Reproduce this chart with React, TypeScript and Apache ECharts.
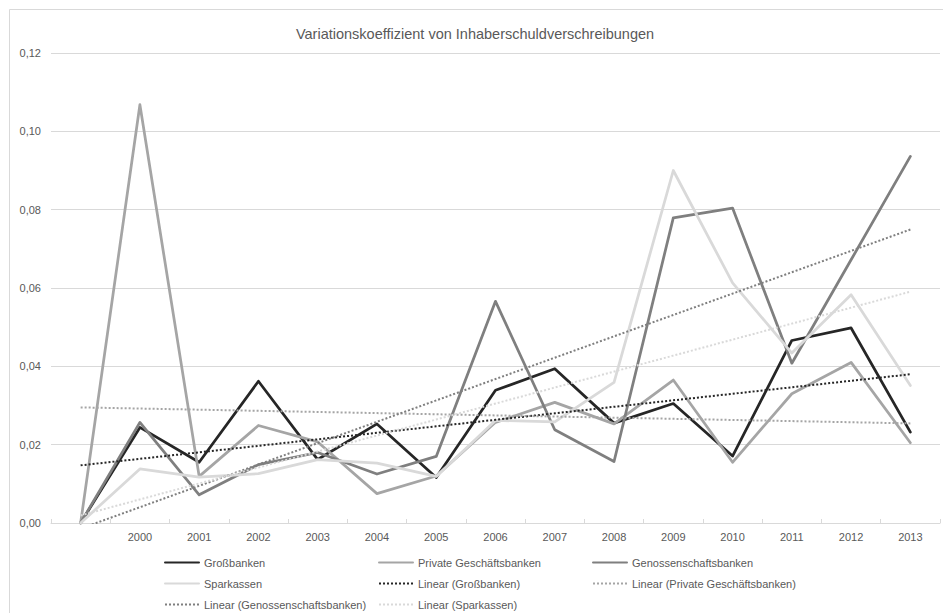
import React, { useEffect, useRef } from "react";
import * as echarts from "echarts";

const categories = ["", "2000", "2001", "2002", "2003", "2004", "2005", "2006", "2007", "2008", "2009", "2010", "2011", "2012", "2013"];

const grossbanken = [0, 0.0244, 0.0155, 0.0362, 0.0162, 0.0253, 0.0116, 0.0339, 0.0394, 0.0255, 0.0305, 0.0171, 0.0466, 0.0498, 0.0232];
const privateBanken = [0, 0.1068, 0.0119, 0.0249, 0.0207, 0.0075, 0.0120, 0.0257, 0.0308, 0.0253, 0.0365, 0.0155, 0.0330, 0.0410, 0.0205];
const genossenschaft = [0, 0.0257, 0.0072, 0.0149, 0.0180, 0.0125, 0.0170, 0.0566, 0.0238, 0.0157, 0.0779, 0.0804, 0.0408, 0.0672, 0.0936];
const sparkassen = [0, 0.0138, 0.0117, 0.0126, 0.0162, 0.0153, 0.0119, 0.0262, 0.0258, 0.0359, 0.0900, 0.0613, 0.0434, 0.0583, 0.0351];

const seriesNames = ["Großbanken", "Private Geschäftsbanken", "Genossenschaftsbanken", "Sparkassen"];
const seriesColors = ["#262626", "#a5a5a5", "#7f7f7f", "#d9d9d9"];

function linearTrend(values: number[]): number[] {
  const n = values.length;
  const xs = values.map((_, i) => i + 1);
  const mx = xs.reduce((a, b) => a + b, 0) / n;
  const my = values.reduce((a, b) => a + b, 0) / n;
  let sxy = 0;
  let sxx = 0;
  for (let i = 0; i < n; i++) {
    sxy += (xs[i] - mx) * (values[i] - my);
    sxx += (xs[i] - mx) * (xs[i] - mx);
  }
  const slope = sxy / sxx;
  const intercept = my - slope * mx;
  return xs.map((x) => intercept + slope * x);
}

export default function App() {
  const ref = useRef<HTMLDivElement>(null);

  useEffect(() => {
    if (!ref.current) return;
    const chart = echarts.init(ref.current, undefined, { renderer: "svg" });
    const font = "Liberation Sans, Arial, sans-serif";
    const dataSets = [grossbanken, privateBanken, genossenschaft, sparkassen];

    const mainSeries = dataSets.map((d, i) => ({
      name: seriesNames[i],
      type: "line",
      data: d,
      symbol: "none",
      lineStyle: { color: seriesColors[i], width: 2.75, join: "round", cap: "round" },
      itemStyle: { color: seriesColors[i] },
      z: 2,
    }));
    const trendSeries = dataSets.map((d, i) => ({
      name: `Linear (${seriesNames[i]})`,
      type: "line",
      data: linearTrend(d),
      symbol: "none",
      clip: true,
      lineStyle: { color: seriesColors[i], width: 2, type: [2, 2] },
      itemStyle: { color: seriesColors[i] },
      z: 3,
    }));

    const legendOrder = [
      seriesNames[0], seriesNames[1], seriesNames[2],
      seriesNames[3], "Linear (Großbanken)", "Linear (Private Geschäftsbanken)",
      "Linear (Genossenschaftsbanken)", "Linear (Sparkassen)",
    ];
    const colLeft = [164, 378, 592];
    const rowTop = [557, 578, 599];
    const legends = legendOrder.map((name, idx) => ({
      data: [name],
      left: colLeft[idx % 3],
      top: rowTop[Math.floor(idx / 3)],
      padding: 0,
      itemWidth: 34,
      itemHeight: 10,
      selectedMode: false,
      itemStyle: { opacity: 0, borderWidth: 0 },
      textStyle: { fontSize: 11, color: "#595959", fontFamily: font },
    }));

    chart.setOption({
      animation: false,
      backgroundColor: "#ffffff",
      title: {
        text: "Variationskoeffizient von Inhaberschuldverschreibungen",
        left: 470,
        textAlign: "center",
        top: 21,
        textStyle: { fontSize: 14.5, fontWeight: "normal", color: "#595959", fontFamily: font },
      },
      graphic: [
        {
          type: "rect",
          shape: { x: 9.5, y: 9.5, width: 1000, height: 1000 },
          style: { fill: "none", stroke: "#d9d9d9", lineWidth: 1 },
          silent: true,
        },
      ],
      legend: legends,
      grid: { left: 51, right: 3, top: 53, bottom: 90, containLabel: false },
      xAxis: {
        type: "category",
        data: categories,
        boundaryGap: true,
        axisLine: { lineStyle: { color: "#d9d9d9", width: 1 } },
        axisTick: { show: true, inside: true, length: 4, lineStyle: { color: "#d9d9d9" } },
        axisLabel: { color: "#595959", fontSize: 11, fontFamily: font, margin: 8, interval: 0 },
        splitLine: { show: false },
      },
      yAxis: {
        type: "value",
        min: 0,
        max: 0.12,
        interval: 0.02,
        axisLine: { show: false },
        axisTick: { show: false },
        axisLabel: {
          color: "#595959",
          fontSize: 11,
          fontFamily: font,
          margin: 10,
          formatter: (v: number) => v.toFixed(2).replace(".", ","),
        },
        splitLine: { lineStyle: { color: "#d9d9d9", width: 1 } },
      },
      series: [...mainSeries, ...trendSeries],
    });

    return () => chart.dispose();
  }, []);

  return (
    <div
      ref={ref}
      style={{ position: "fixed", left: 0, top: 0, width: 943, height: 613, background: "#fff" }}
    />
  );
}
